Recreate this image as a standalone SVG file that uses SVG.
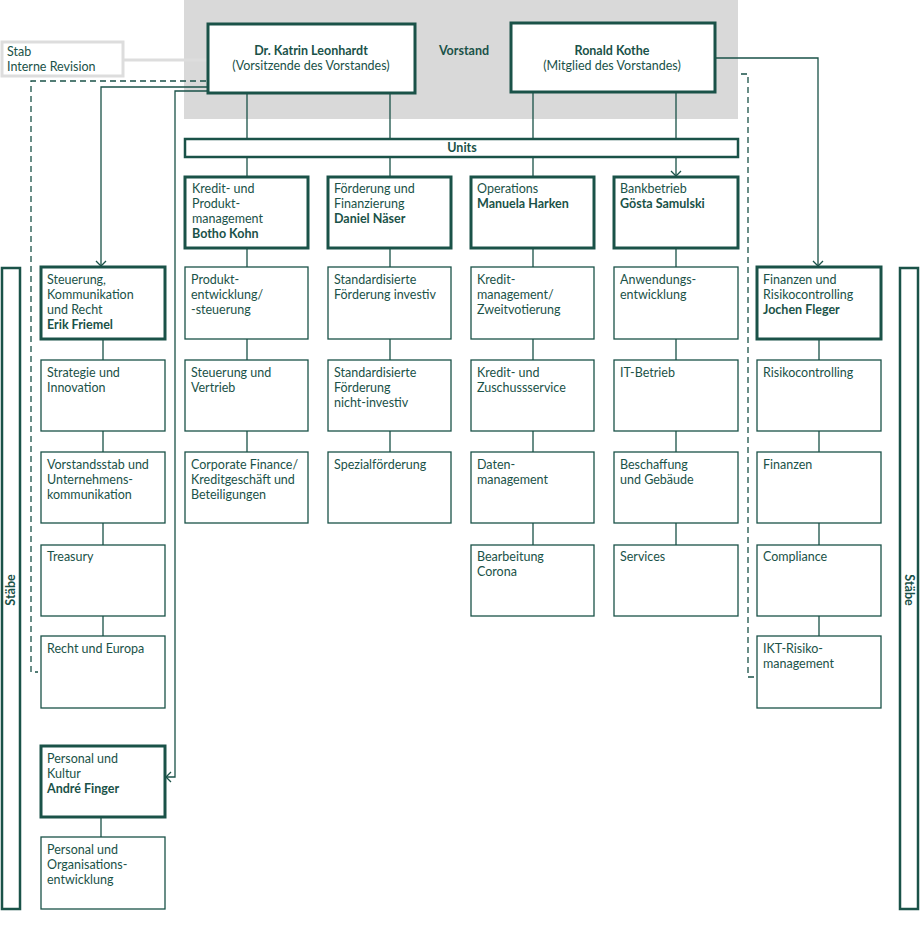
<svg xmlns="http://www.w3.org/2000/svg" width="920" height="930" viewBox="0 0 920 930">
<style>
text{font-family:"Lato","Liberation Sans",sans-serif;font-size:12.5px;fill:#1a5248}
.b{font-weight:bold}
.h{fill:#fff;stroke:#1a5248;stroke-width:3}
.s{fill:#fff;stroke:#1a5248;stroke-width:1.3}
.c{fill:none;stroke:#1a5248;stroke-width:1.3}
.d{fill:none;stroke:#1a5248;stroke-width:1.3;stroke-dasharray:6,4}
</style>
<defs><marker id="a" markerWidth="12" markerHeight="12" refX="6" refY="6" orient="auto" markerUnits="userSpaceOnUse"><path d="M1,1 L6,6 L1,11" fill="none" stroke="#1a5248" stroke-width="1.3"/></marker></defs>
<rect x="184" y="0" width="554" height="119" fill="#d9d9d9"/>
<g id="connectors">
<line x1="123" y1="60" x2="208" y2="60" stroke="#ddd" stroke-width="3"/>
<path class="c" d="M247,93V138M390,93V138M533,92V138M676,92V138"/>
<path class="c" d="M247,157V176M390,157V176M533,157V176M676,157V176" marker-end="url(#a)"/>
<path class="c" d="M247,248V267M390,248V267M390,339V360M390,431V452M247,339V360M247,431V452M533,248V267M533,339V360M533,431V452M533,523V545M676,248V267M676,339V360M676,431V452M676,523V545"/>
<path class="c" d="M103,339V360M103,431V452M103,523V545M103,616V636M101,817V837M819,339V360M819,431V452M819,523V545M819,616V636"/>
<path class="c" d="M208,87H101V266" marker-end="url(#a)"/>
<path class="c" d="M208,91H175V777H166" marker-end="url(#a)"/>
<path class="d" d="M206,81H31V672H38"/>
<path class="c" d="M715,58H818V266" marker-end="url(#a)"/>
<path class="d" d="M741,74H748V677H757"/>
</g>
<g id="stab"><rect x="2" y="42" width="121" height="34" fill="#fff" stroke="#ddd" stroke-width="3"/><text x="7" y="56">Stab</text><text x="7" y="71">Interne Revision</text></g>
<g id="vorstand"><text x="464" y="55" class="b" text-anchor="middle" font-size="13">Vorstand</text></g>
<g id="leonhardt"><rect class="h" x="208" y="24" width="207" height="69"/><text class="b" x="311" y="55" text-anchor="middle">Dr. Katrin Leonhardt</text><text x="311" y="70" text-anchor="middle">(Vorsitzende des Vorstandes)</text></g>
<g id="kothe"><rect class="h" x="511" y="23" width="204" height="69"/><text class="b" x="612" y="55" text-anchor="middle">Ronald Kothe</text><text x="612" y="70" text-anchor="middle">(Mitglied des Vorstandes)</text></g>
<g id="units"><rect x="185" y="139" width="553" height="18" fill="#fff" stroke="#1a5248" stroke-width="2.5"/><text class="b" x="462" y="152" text-anchor="middle">Units</text></g>
<g id="u1"><rect class="h" x="185" y="177" width="123" height="71"/><text x="192" y="193">Kredit- und</text><text x="192" y="208">Produkt-</text><text x="192" y="223">management</text><text class="b" x="192" y="238">Botho Kohn</text></g>
<g id="u2"><rect class="h" x="328" y="177" width="123" height="71"/><text x="334" y="193">Förderung und</text><text x="334" y="208">Finanzierung</text><text class="b" x="334" y="223">Daniel Näser</text></g>
<g id="u3"><rect class="h" x="471" y="177" width="123" height="71"/><text x="477" y="193">Operations</text><text class="b" x="477" y="208">Manuela Harken</text></g>
<g id="u4"><rect class="h" x="614" y="177" width="124" height="71"/><text x="620" y="193">Bankbetrieb</text><text class="b" x="620" y="208">Gösta Samulski</text></g>
<g id="u1a"><rect class="s" x="185" y="267" width="123" height="72"/><text x="191" y="284">Produkt-</text><text x="191" y="299">entwicklung/</text><text x="191" y="314">-steuerung</text></g>
<g id="u1b"><rect class="s" x="185" y="360" width="123" height="71"/><text x="191" y="377">Steuerung und</text><text x="191" y="392">Vertrieb</text></g>
<g id="u1c"><rect class="s" x="185" y="452" width="123" height="71"/><text x="191" y="469">Corporate Finance/</text><text x="191" y="484">Kreditgeschäft und</text><text x="191" y="499">Beteiligungen</text></g>
<g id="u2a"><rect class="s" x="328" y="267" width="123" height="72"/><text x="334" y="284">Standardisierte</text><text x="334" y="299">Förderung investiv</text></g>
<g id="u2b"><rect class="s" x="328" y="360" width="123" height="71"/><text x="334" y="377">Standardisierte</text><text x="334" y="392">Förderung</text><text x="334" y="407">nicht-investiv</text></g>
<g id="u2c"><rect class="s" x="328" y="452" width="123" height="71"/><text x="334" y="469">Spezialförderung</text></g>
<g id="u3a"><rect class="s" x="471" y="267" width="123" height="72"/><text x="477" y="284">Kredit-</text><text x="477" y="299">management/</text><text x="477" y="314">Zweitvotierung</text></g>
<g id="u3b"><rect class="s" x="471" y="360" width="123" height="71"/><text x="477" y="377">Kredit- und</text><text x="477" y="392">Zuschussservice</text></g>
<g id="u3c"><rect class="s" x="471" y="452" width="123" height="71"/><text x="477" y="469">Daten-</text><text x="477" y="484">management</text></g>
<g id="u3d"><rect class="s" x="471" y="545" width="123" height="71"/><text x="477" y="561">Bearbeitung</text><text x="477" y="576">Corona</text></g>
<g id="u4a"><rect class="s" x="614" y="267" width="124" height="72"/><text x="620" y="284">Anwendungs-</text><text x="620" y="299">entwicklung</text></g>
<g id="u4b"><rect class="s" x="614" y="360" width="124" height="71"/><text x="620" y="377">IT-Betrieb</text></g>
<g id="u4c"><rect class="s" x="614" y="452" width="124" height="71"/><text x="620" y="469">Beschaffung</text><text x="620" y="484">und Gebäude</text></g>
<g id="u4d"><rect class="s" x="614" y="545" width="124" height="71"/><text x="620" y="561">Services</text></g>
<g id="l1"><rect class="h" x="41" y="267" width="124" height="72"/><text x="47" y="284">Steuerung,</text><text x="47" y="299">Kommunikation</text><text x="47" y="314">und Recht</text><text class="b" x="47" y="329">Erik Friemel</text></g>
<g id="l1a"><rect class="s" x="41" y="360" width="124" height="71"/><text x="47" y="377">Strategie und</text><text x="47" y="392">Innovation</text></g>
<g id="l1b"><rect class="s" x="41" y="452" width="124" height="71"/><text x="47" y="469">Vorstandsstab und</text><text x="47" y="484">Unternehmens-</text><text x="47" y="499">kommunikation</text></g>
<g id="l1c"><rect class="s" x="41" y="545" width="124" height="71"/><text x="47" y="561">Treasury</text></g>
<g id="l1d"><rect class="s" x="41" y="636" width="124" height="72"/><text x="47" y="653">Recht und Europa</text></g>
<g id="l2"><rect class="h" x="41" y="746" width="124" height="71"/><text x="47" y="763">Personal und</text><text x="47" y="778">Kultur</text><text class="b" x="47" y="793">André Finger</text></g>
<g id="l2a"><rect class="s" x="41" y="837" width="124" height="72"/><text x="47" y="854">Personal und</text><text x="47" y="869">Organisations-</text><text x="47" y="884">entwicklung</text></g>
<g id="r1"><rect class="h" x="757" y="267" width="124" height="72"/><text x="763" y="284">Finanzen und</text><text x="763" y="299">Risikocontrolling</text><text class="b" x="763" y="314">Jochen Fleger</text></g>
<g id="r1a"><rect class="s" x="757" y="360" width="124" height="71"/><text x="763" y="377">Risikocontrolling</text></g>
<g id="r1b"><rect class="s" x="757" y="452" width="124" height="71"/><text x="763" y="469">Finanzen</text></g>
<g id="r1c"><rect class="s" x="757" y="545" width="124" height="71"/><text x="763" y="561">Compliance</text></g>
<g id="r1d"><rect class="s" x="757" y="636" width="124" height="72"/><text x="763" y="653">IKT-Risiko-</text><text x="763" y="668">management</text></g>
<g id="staebe-l"><rect x="2" y="268" width="18" height="641" fill="#fff" stroke="#1a5248" stroke-width="2.5"/><text class="b" transform="translate(15,590) rotate(-90)" text-anchor="middle" font-size="11">Stäbe</text></g>
<g id="staebe-r"><rect x="900" y="268" width="18" height="641" fill="#fff" stroke="#1a5248" stroke-width="2.5"/><text class="b" transform="translate(905,590) rotate(90)" text-anchor="middle" font-size="11">Stäbe</text></g>
</svg>
